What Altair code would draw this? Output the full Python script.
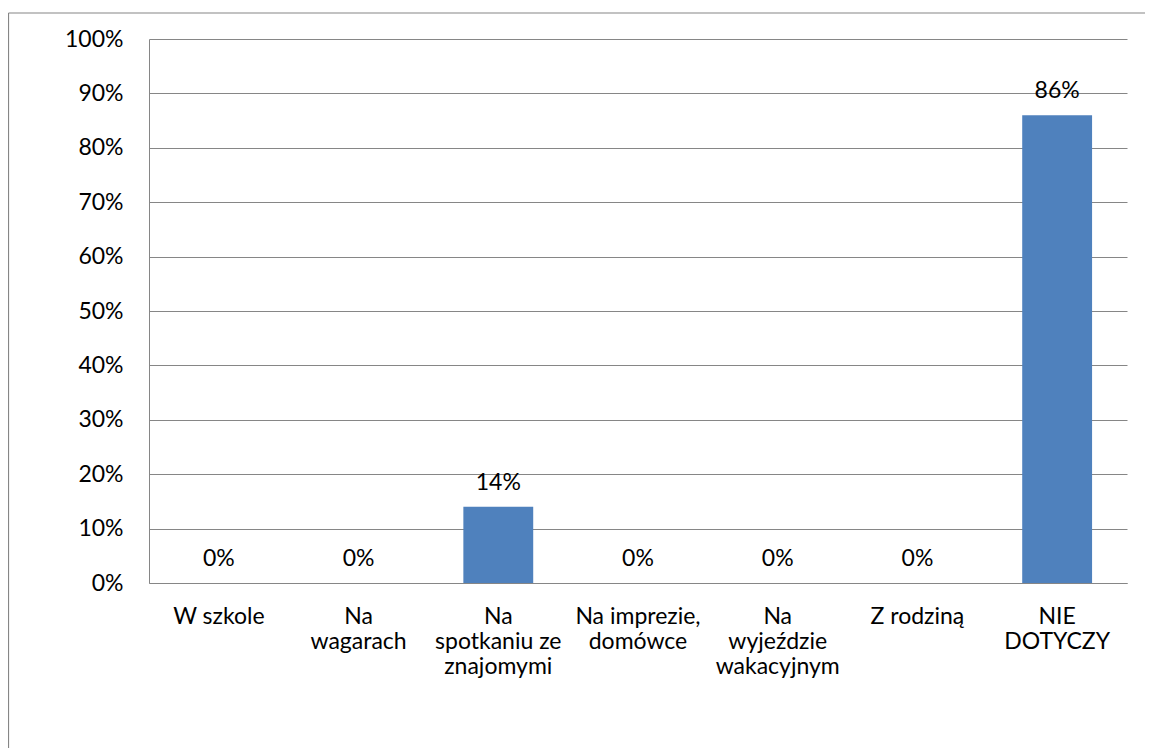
import altair as alt
import pandas as pd

categories = [
    "W szkole",
    "Na\nwagarach",
    "Na\nspotkaniu ze\nznajomymi",
    "Na imprezie,\ndomówce",
    "Na\nwyjeździe\nwakacyjnym",
    "Z rodziną",
    "NIE\nDOTYCZY",
]
values = [0.0, 0.0, 0.14, 0.0, 0.0, 0.0, 0.86]

df = pd.DataFrame({"cat": categories, "val": values})
FONT = "Lato"
GRID = "#868686"

x_enc = alt.X(
    "cat:N",
    sort=None,
    title=None,
    scale=alt.Scale(paddingInner=0.5, paddingOuter=0.25),
    axis=alt.Axis(
        labelExpr="split(datum.label, '\\n')",
        labelAngle=0,
        labelAlign="center",
        labelBaseline="top",
        labelLineHeight=25,
        labelPadding=22,
        labelFontSize=23,
        labelFont=FONT,
        labelColor="#000000",
        ticks=False,
        domainColor=GRID,
        domainWidth=1,
        grid=False,
    ),
)
y_enc = alt.Y(
    "val:Q",
    title=None,
    scale=alt.Scale(domain=[0, 1], nice=False),
    axis=alt.Axis(
        format=".0%",
        values=[i / 10 for i in range(11)],
        labelFontSize=23,
        labelFont=FONT,
        labelColor="#000000",
        labelPadding=26,
        ticks=False,
        domainColor=GRID,
        domainWidth=1,
        gridColor=GRID,
        gridWidth=1,
        grid=True,
    ),
)

bars = alt.Chart(df).mark_bar(color="#4F81BD").encode(x=x_enc, y=y_enc)
labels = alt.Chart(df).mark_text(
    baseline="middle", dy=-24, fontSize=23, font=FONT, color="#000000"
).encode(x=alt.X("cat:N", sort=None), y="val:Q", text=alt.Text("val:Q", format=".0%"))

one = pd.DataFrame({"a": [0]})
border_left = alt.Chart(one).mark_rule(stroke=GRID, strokeWidth=1.2).encode(
    x=alt.value(-140.5), y=alt.value(-26), y2=alt.value(730)
)
border_top = alt.Chart(one).mark_rule(stroke=GRID, strokeWidth=1.2).encode(
    x=alt.value(-140.5), x2=alt.value(1100), y=alt.value(-26)
)

chart = (
    alt.layer(bars, labels, border_left, border_top)
    .properties(
        width=978,
        height=544,
        autosize=alt.AutoSizeParams(type="none"),
        padding={"left": 141, "top": 31, "right": 18, "bottom": 165},
    )
    .configure_view(stroke=None)
)

chart.save("out.html", embed_options={"renderer": "svg", "actions": False})
